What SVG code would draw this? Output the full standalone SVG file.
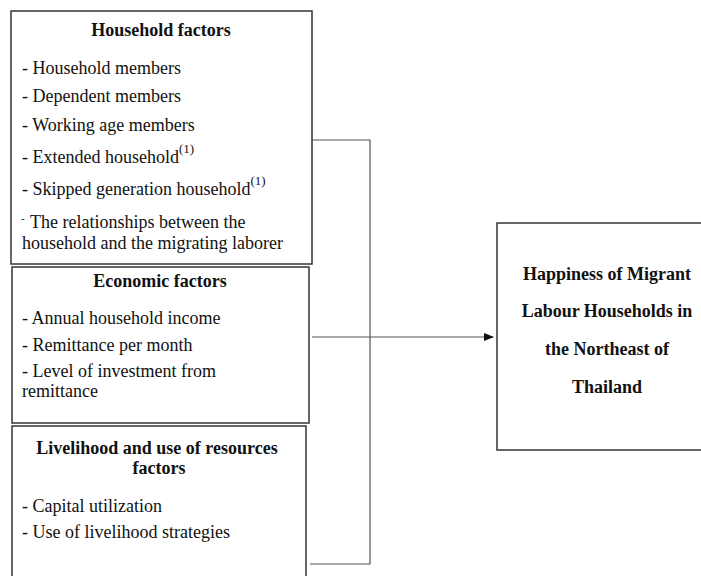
<svg xmlns="http://www.w3.org/2000/svg" width="701" height="576" viewBox="0 0 701 576">
<style>
.box{fill:#fff;stroke:#333;stroke-width:1.5}
.t{font-family:"Liberation Serif",serif;font-size:18px;fill:#111}
.b{font-weight:bold}
.sup{font-size:13px}
.c{fill:none;stroke:#555;stroke-width:1.2}
</style>
<defs>
<marker id="arr" markerWidth="10" markerHeight="8" refX="9" refY="4" orient="auto" markerUnits="userSpaceOnUse">
<path d="M0,0 L10,4 L0,8 z" fill="#111"/>
</marker>
</defs>
<rect width="701" height="576" fill="#fff"/>
<g id="connectors">
<polyline class="c" points="312,140 370,140 370,564 310,564"/>
<line class="c" x1="312" y1="337" x2="493" y2="337" stroke="#222" marker-end="url(#arr)"/>
</g>
<g id="household">
<rect class="box" x="11" y="11" width="301" height="253"/>
<text class="t b" x="161" y="36" text-anchor="middle">Household factors</text>
<text class="t" x="22" y="74">- Household members</text>
<text class="t" x="22" y="102">- Dependent members</text>
<text class="t" x="22" y="131">- Working age members</text>
<text class="t" x="22" y="163">- Extended household<tspan class="sup" dy="-10">(1)</tspan></text>
<text class="t" x="22" y="195">- Skipped generation household<tspan class="sup" dy="-10">(1)</tspan></text>
<text class="t" x="21" y="222" style="font-size:11px">-</text>
<text class="t" x="30" y="228">The relationships between the</text>
<text class="t" x="22" y="249">household and the migrating laborer</text>
</g>
<g id="economic">
<rect class="box" x="12" y="267" width="297" height="156"/>
<text class="t b" x="160" y="287" text-anchor="middle">Economic factors</text>
<text class="t" x="22" y="324">- Annual household income</text>
<text class="t" x="22" y="351">- Remittance per month</text>
<text class="t" x="22" y="377">- Level of investment from</text>
<text class="t" x="22" y="397">remittance</text>
</g>
<g id="livelihood">
<rect class="box" x="12" y="426" width="294" height="160"/>
<text class="t b" x="157" y="454" text-anchor="middle">Livelihood and use of resources</text>
<text class="t b" x="159" y="474" text-anchor="middle">factors</text>
<text class="t" x="22" y="512">- Capital utilization</text>
<text class="t" x="22" y="538">- Use of livelihood strategies</text>
</g>
<g id="happiness">
<rect class="box" x="497" y="223" width="215" height="227"/>
<text class="t b" x="607" y="280" text-anchor="middle">Happiness of Migrant</text>
<text class="t b" x="607" y="317" text-anchor="middle">Labour Households in</text>
<text class="t b" x="607" y="355" text-anchor="middle">the Northeast of</text>
<text class="t b" x="607" y="393" text-anchor="middle">Thailand</text>
</g>
</svg>
